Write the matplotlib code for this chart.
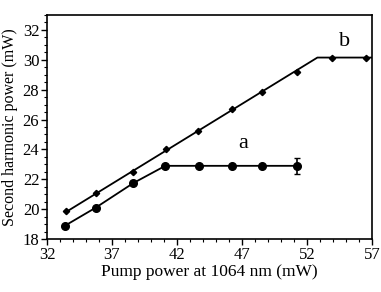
import matplotlib
matplotlib.use("Agg")
import matplotlib.pyplot as plt
from matplotlib.ticker import MultipleLocator, FixedLocator

plt.rcParams['font.family'] = ['Liberation Serif', 'DejaVu Serif']

# series a (circles)
a_x = [33.4, 35.75, 38.65, 41.1, 43.7, 46.25, 48.55, 51.25]
a_y = [18.9, 20.1, 21.75, 22.9, 22.9, 22.9, 22.9, 22.9]
a_err = [0, 0, 0, 0, 0, 0, 0, 0.55]

# series b (diamonds)
b_x = [33.45, 35.75, 38.65, 41.15, 43.65, 46.2, 48.55, 51.25, 53.95, 56.5]
b_y = [19.85, 21.1, 22.5, 24.05, 25.2, 26.7, 27.85, 29.2, 30.15, 30.15]

# fitted line for b
b_fit_x = [33.45, 52.8, 57.0]
b_fit_y = [19.8, 30.15, 30.15]

x_ticks = [32, 37, 42, 47, 52, 57]
y_ticks = [18, 20, 22, 24, 26, 28, 30, 32]

fig = plt.figure(figsize=(3.81, 2.92), dpi=100)
ax = fig.add_axes([47/381, 1 - 239/292, (372-47)/381, (239-15)/292])

ax.plot(b_fit_x, b_fit_y, color='black', lw=1.3, zorder=2)
ax.plot(b_x, b_y, linestyle='none', marker='D', ms=3.2, color='black', zorder=3)
ax.errorbar(a_x, a_y, yerr=a_err, color='black', lw=1.3, marker='o', ms=5.5,
            capsize=2.5, elinewidth=1.2, zorder=3)

ax.text(47.1, 24.4, 'a', fontsize=16, ha='center', va='center')
ax.text(54.9, 31.2, 'b', fontsize=16, ha='center', va='center')

ax.set_xlim(32, 57)
ax.set_ylim(18, 33)
ax.xaxis.set_major_locator(FixedLocator(x_ticks))
ax.xaxis.set_minor_locator(MultipleLocator(1))
ax.yaxis.set_major_locator(FixedLocator(y_ticks))
ax.yaxis.set_minor_locator(MultipleLocator(0.5))
ax.tick_params(which='major', direction='out', length=4, width=1, labelsize=12,
               top=False, right=False, pad=1.5)
ax.tick_params(which='minor', direction='out', length=2.5, width=0.8,
               top=False, right=False)
for s in ax.spines.values():
    s.set_linewidth(1.2)

ax.set_xlabel('Pump power at 1064 nm (mW)', fontsize=12.5, labelpad=1)
ax.set_ylabel('Second harmonic power (mW)', fontsize=11.5, labelpad=3)

fig.savefig('out.png', dpi=100)
